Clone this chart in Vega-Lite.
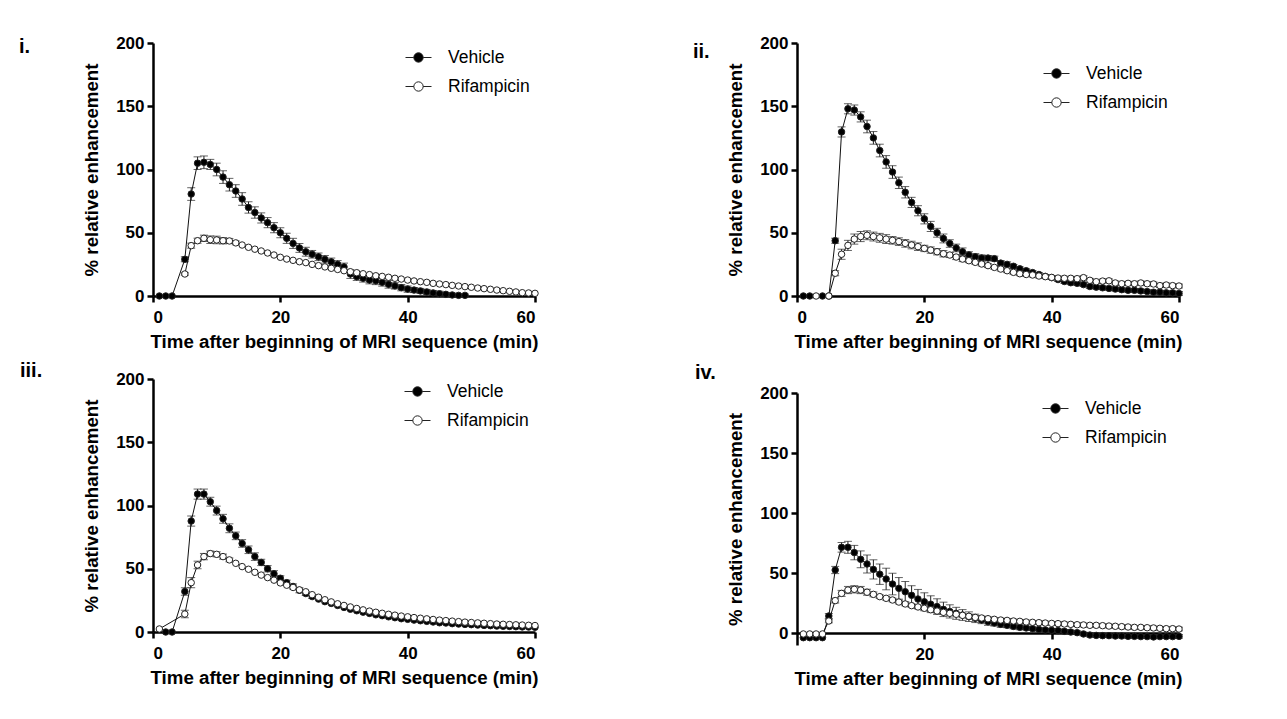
{
"$schema": "https://vega.github.io/schema/vega-lite/v6.json",
"padding": {"left": 19, "top": 34, "right": 5, "bottom": 5},
"background": "white",
"datasets": {
"d": [
{"p":"i","s":"Vehicle","t":1,"v":0,"e":0},{"p":"i","s":"Vehicle","t":2,"v":0,"e":0},{"p":"i","s":"Vehicle","t":3,"v":0,"e":0},{"p":"i","s":"Vehicle","t":5,"v":29,"e":2},{"p":"i","s":"Vehicle","t":6,"v":80.6,"e":5},{"p":"i","s":"Vehicle","t":7,"v":105,"e":5},{"p":"i","s":"Vehicle","t":8,"v":105.7,"e":5},{"p":"i","s":"Vehicle","t":9,"v":104,"e":4},{"p":"i","s":"Vehicle","t":10,"v":100,"e":5},{"p":"i","s":"Vehicle","t":11,"v":94,"e":5},{"p":"i","s":"Vehicle","t":12,"v":88,"e":5},{"p":"i","s":"Vehicle","t":13,"v":83,"e":5},{"p":"i","s":"Vehicle","t":14,"v":76.7,"e":5},{"p":"i","s":"Vehicle","t":15,"v":70,"e":4.5},{"p":"i","s":"Vehicle","t":16,"v":66,"e":4.5},{"p":"i","s":"Vehicle","t":17,"v":61.7,"e":4},{"p":"i","s":"Vehicle","t":18,"v":58,"e":4},{"p":"i","s":"Vehicle","t":19,"v":54,"e":4},{"p":"i","s":"Vehicle","t":20,"v":50,"e":4},{"p":"i","s":"Vehicle","t":21,"v":45.6,"e":4},{"p":"i","s":"Vehicle","t":22,"v":41.6,"e":4},{"p":"i","s":"Vehicle","t":23,"v":38,"e":3.5},{"p":"i","s":"Vehicle","t":24,"v":35,"e":3.5},{"p":"i","s":"Vehicle","t":25,"v":33,"e":3},{"p":"i","s":"Vehicle","t":26,"v":31,"e":3},{"p":"i","s":"Vehicle","t":27,"v":29,"e":3},{"p":"i","s":"Vehicle","t":28,"v":27,"e":3},{"p":"i","s":"Vehicle","t":29,"v":25,"e":3},{"p":"i","s":"Vehicle","t":30,"v":23,"e":3},{"p":"i","s":"Vehicle","t":31,"v":17.4,"e":3.5},{"p":"i","s":"Vehicle","t":32,"v":15.3,"e":3},{"p":"i","s":"Vehicle","t":33,"v":14,"e":3},{"p":"i","s":"Vehicle","t":34,"v":12.6,"e":3},{"p":"i","s":"Vehicle","t":35,"v":12,"e":3},{"p":"i","s":"Vehicle","t":36,"v":10.8,"e":3},{"p":"i","s":"Vehicle","t":37,"v":9.2,"e":3},{"p":"i","s":"Vehicle","t":38,"v":8,"e":2.5},{"p":"i","s":"Vehicle","t":39,"v":6.6,"e":2.5},{"p":"i","s":"Vehicle","t":40,"v":5.5,"e":2.5},{"p":"i","s":"Vehicle","t":41,"v":4.7,"e":2},{"p":"i","s":"Vehicle","t":42,"v":4,"e":2},{"p":"i","s":"Vehicle","t":43,"v":3.2,"e":2},{"p":"i","s":"Vehicle","t":44,"v":2.4,"e":2},{"p":"i","s":"Vehicle","t":45,"v":1.8,"e":2},{"p":"i","s":"Vehicle","t":46,"v":1.3,"e":1.5},{"p":"i","s":"Vehicle","t":47,"v":0.8,"e":1.5},{"p":"i","s":"Vehicle","t":48,"v":0.5,"e":1},{"p":"i","s":"Vehicle","t":49,"v":0.5,"e":1},
{"p":"i","s":"Rifampicin","t":5,"v":17.4,"e":1},{"p":"i","s":"Rifampicin","t":6,"v":39.8,"e":2},{"p":"i","s":"Rifampicin","t":7,"v":43.7,"e":2},{"p":"i","s":"Rifampicin","t":8,"v":45.6,"e":2.5},{"p":"i","s":"Rifampicin","t":9,"v":44.5,"e":3},{"p":"i","s":"Rifampicin","t":10,"v":44.3,"e":3},{"p":"i","s":"Rifampicin","t":11,"v":43.7,"e":2.5},{"p":"i","s":"Rifampicin","t":12,"v":43.5,"e":2},{"p":"i","s":"Rifampicin","t":13,"v":42,"e":1.5},{"p":"i","s":"Rifampicin","t":14,"v":40.3,"e":0},{"p":"i","s":"Rifampicin","t":15,"v":38.5,"e":0},{"p":"i","s":"Rifampicin","t":16,"v":37,"e":0},{"p":"i","s":"Rifampicin","t":17,"v":35.6,"e":0},{"p":"i","s":"Rifampicin","t":18,"v":34,"e":0},{"p":"i","s":"Rifampicin","t":19,"v":32.4,"e":0},{"p":"i","s":"Rifampicin","t":20,"v":30.6,"e":0},{"p":"i","s":"Rifampicin","t":21,"v":29.2,"e":0},{"p":"i","s":"Rifampicin","t":22,"v":28.2,"e":0},{"p":"i","s":"Rifampicin","t":23,"v":27.1,"e":0},{"p":"i","s":"Rifampicin","t":24,"v":26.4,"e":0},{"p":"i","s":"Rifampicin","t":25,"v":25,"e":0},{"p":"i","s":"Rifampicin","t":26,"v":24,"e":0},{"p":"i","s":"Rifampicin","t":27,"v":23,"e":0},{"p":"i","s":"Rifampicin","t":28,"v":21.9,"e":0},{"p":"i","s":"Rifampicin","t":29,"v":21,"e":0},{"p":"i","s":"Rifampicin","t":30,"v":20,"e":0},{"p":"i","s":"Rifampicin","t":31,"v":19.2,"e":0},{"p":"i","s":"Rifampicin","t":32,"v":18.4,"e":0},{"p":"i","s":"Rifampicin","t":33,"v":17.6,"e":0},{"p":"i","s":"Rifampicin","t":34,"v":16.9,"e":0},{"p":"i","s":"Rifampicin","t":35,"v":16,"e":0},{"p":"i","s":"Rifampicin","t":36,"v":15.5,"e":0},{"p":"i","s":"Rifampicin","t":37,"v":14.8,"e":0},{"p":"i","s":"Rifampicin","t":38,"v":14,"e":0},{"p":"i","s":"Rifampicin","t":39,"v":13.4,"e":0},{"p":"i","s":"Rifampicin","t":40,"v":12.6,"e":0},{"p":"i","s":"Rifampicin","t":41,"v":11.9,"e":0},{"p":"i","s":"Rifampicin","t":42,"v":11.3,"e":0},{"p":"i","s":"Rifampicin","t":43,"v":10.8,"e":0},{"p":"i","s":"Rifampicin","t":44,"v":10,"e":0},{"p":"i","s":"Rifampicin","t":45,"v":9.5,"e":0},{"p":"i","s":"Rifampicin","t":46,"v":9,"e":0},{"p":"i","s":"Rifampicin","t":47,"v":8.4,"e":0},{"p":"i","s":"Rifampicin","t":48,"v":7.9,"e":0},{"p":"i","s":"Rifampicin","t":49,"v":7.4,"e":0},{"p":"i","s":"Rifampicin","t":50,"v":6.9,"e":0},{"p":"i","s":"Rifampicin","t":51,"v":6.3,"e":0},{"p":"i","s":"Rifampicin","t":52,"v":5.8,"e":0},{"p":"i","s":"Rifampicin","t":53,"v":5.3,"e":0},{"p":"i","s":"Rifampicin","t":54,"v":4.7,"e":0},{"p":"i","s":"Rifampicin","t":55,"v":4.2,"e":0},{"p":"i","s":"Rifampicin","t":56,"v":3.7,"e":0},{"p":"i","s":"Rifampicin","t":57,"v":3.2,"e":0},{"p":"i","s":"Rifampicin","t":58,"v":2.6,"e":0},{"p":"i","s":"Rifampicin","t":59,"v":2.4,"e":0},{"p":"i","s":"Rifampicin","t":60,"v":2.1,"e":0},
{"p":"ii","s":"Vehicle","t":1,"v":0,"e":0},{"p":"ii","s":"Vehicle","t":2,"v":0,"e":0},{"p":"ii","s":"Vehicle","t":4,"v":0,"e":0},{"p":"ii","s":"Vehicle","t":5,"v":0,"e":0},{"p":"ii","s":"Vehicle","t":6,"v":43.7,"e":2},{"p":"ii","s":"Vehicle","t":7,"v":129.7,"e":4},{"p":"ii","s":"Vehicle","t":8,"v":148,"e":4},{"p":"ii","s":"Vehicle","t":9,"v":147,"e":4},{"p":"ii","s":"Vehicle","t":10,"v":141.6,"e":4},{"p":"ii","s":"Vehicle","t":11,"v":134,"e":5},{"p":"ii","s":"Vehicle","t":12,"v":125,"e":5},{"p":"ii","s":"Vehicle","t":13,"v":115,"e":5},{"p":"ii","s":"Vehicle","t":14,"v":106,"e":5},{"p":"ii","s":"Vehicle","t":15,"v":98,"e":5},{"p":"ii","s":"Vehicle","t":16,"v":89.5,"e":4.5},{"p":"ii","s":"Vehicle","t":17,"v":82,"e":4.5},{"p":"ii","s":"Vehicle","t":18,"v":74,"e":4},{"p":"ii","s":"Vehicle","t":19,"v":67.4,"e":4},{"p":"ii","s":"Vehicle","t":20,"v":61,"e":4},{"p":"ii","s":"Vehicle","t":21,"v":55,"e":4},{"p":"ii","s":"Vehicle","t":22,"v":50,"e":3.5},{"p":"ii","s":"Vehicle","t":23,"v":45.5,"e":3.5},{"p":"ii","s":"Vehicle","t":24,"v":41.5,"e":3},{"p":"ii","s":"Vehicle","t":25,"v":38,"e":3},{"p":"ii","s":"Vehicle","t":26,"v":35,"e":3},{"p":"ii","s":"Vehicle","t":27,"v":32.5,"e":2.5},{"p":"ii","s":"Vehicle","t":28,"v":31,"e":2.5},{"p":"ii","s":"Vehicle","t":29,"v":30,"e":2.5},{"p":"ii","s":"Vehicle","t":30,"v":30,"e":2},{"p":"ii","s":"Vehicle","t":31,"v":29.5,"e":2},{"p":"ii","s":"Vehicle","t":32,"v":26,"e":2},{"p":"ii","s":"Vehicle","t":33,"v":25,"e":2},{"p":"ii","s":"Vehicle","t":34,"v":23.5,"e":1.5},{"p":"ii","s":"Vehicle","t":35,"v":21.5,"e":1.5},{"p":"ii","s":"Vehicle","t":36,"v":20,"e":1.5},{"p":"ii","s":"Vehicle","t":37,"v":18.5,"e":1.5},{"p":"ii","s":"Vehicle","t":38,"v":17,"e":1.5},{"p":"ii","s":"Vehicle","t":39,"v":15.5,"e":1.5},{"p":"ii","s":"Vehicle","t":40,"v":14.5,"e":1.5},{"p":"ii","s":"Vehicle","t":41,"v":13,"e":1.5},{"p":"ii","s":"Vehicle","t":42,"v":11.5,"e":1.5},{"p":"ii","s":"Vehicle","t":43,"v":10.5,"e":1.5},{"p":"ii","s":"Vehicle","t":44,"v":10,"e":1.5},{"p":"ii","s":"Vehicle","t":45,"v":9,"e":1.5},{"p":"ii","s":"Vehicle","t":46,"v":7.5,"e":1.5},{"p":"ii","s":"Vehicle","t":47,"v":7,"e":1.5},{"p":"ii","s":"Vehicle","t":48,"v":6.5,"e":1.5},{"p":"ii","s":"Vehicle","t":49,"v":6,"e":1.5},{"p":"ii","s":"Vehicle","t":50,"v":5.5,"e":1.5},{"p":"ii","s":"Vehicle","t":51,"v":5,"e":1.5},{"p":"ii","s":"Vehicle","t":52,"v":4.5,"e":1.5},{"p":"ii","s":"Vehicle","t":53,"v":4.5,"e":1.5},{"p":"ii","s":"Vehicle","t":54,"v":4,"e":1.5},{"p":"ii","s":"Vehicle","t":55,"v":3.5,"e":1.5},{"p":"ii","s":"Vehicle","t":56,"v":3,"e":1.5},{"p":"ii","s":"Vehicle","t":57,"v":3,"e":1.5},{"p":"ii","s":"Vehicle","t":58,"v":2.5,"e":1.5},{"p":"ii","s":"Vehicle","t":59,"v":2.5,"e":1.5},{"p":"ii","s":"Vehicle","t":60,"v":2,"e":1.5},
{"p":"ii","s":"Rifampicin","t":3,"v":0,"e":0},{"p":"ii","s":"Rifampicin","t":5,"v":0,"e":0},{"p":"ii","s":"Rifampicin","t":6,"v":18,"e":2},{"p":"ii","s":"Rifampicin","t":7,"v":33,"e":4},{"p":"ii","s":"Rifampicin","t":8,"v":40,"e":4},{"p":"ii","s":"Rifampicin","t":9,"v":45,"e":4},{"p":"ii","s":"Rifampicin","t":10,"v":47,"e":4},{"p":"ii","s":"Rifampicin","t":11,"v":48,"e":3.5},{"p":"ii","s":"Rifampicin","t":12,"v":47,"e":3.5},{"p":"ii","s":"Rifampicin","t":13,"v":46,"e":3.5},{"p":"ii","s":"Rifampicin","t":14,"v":45,"e":3.5},{"p":"ii","s":"Rifampicin","t":15,"v":44,"e":3},{"p":"ii","s":"Rifampicin","t":16,"v":43,"e":3},{"p":"ii","s":"Rifampicin","t":17,"v":41.6,"e":3},{"p":"ii","s":"Rifampicin","t":18,"v":40.3,"e":3},{"p":"ii","s":"Rifampicin","t":19,"v":39,"e":3},{"p":"ii","s":"Rifampicin","t":20,"v":37.6,"e":2.5},{"p":"ii","s":"Rifampicin","t":21,"v":36.3,"e":2.5},{"p":"ii","s":"Rifampicin","t":22,"v":35,"e":2.5},{"p":"ii","s":"Rifampicin","t":23,"v":33.4,"e":2.5},{"p":"ii","s":"Rifampicin","t":24,"v":32.4,"e":2},{"p":"ii","s":"Rifampicin","t":25,"v":30.8,"e":2},{"p":"ii","s":"Rifampicin","t":26,"v":29.2,"e":2},{"p":"ii","s":"Rifampicin","t":27,"v":27.9,"e":1.5},{"p":"ii","s":"Rifampicin","t":28,"v":26.6,"e":1.5},{"p":"ii","s":"Rifampicin","t":29,"v":25.3,"e":1.5},{"p":"ii","s":"Rifampicin","t":30,"v":24,"e":1.5},{"p":"ii","s":"Rifampicin","t":31,"v":22.6,"e":1.5},{"p":"ii","s":"Rifampicin","t":32,"v":21.3,"e":1.5},{"p":"ii","s":"Rifampicin","t":33,"v":20,"e":1.5},{"p":"ii","s":"Rifampicin","t":34,"v":18.7,"e":1.5},{"p":"ii","s":"Rifampicin","t":35,"v":17.6,"e":1.5},{"p":"ii","s":"Rifampicin","t":36,"v":17,"e":1.5},{"p":"ii","s":"Rifampicin","t":37,"v":16.6,"e":1.5},{"p":"ii","s":"Rifampicin","t":38,"v":15.8,"e":1.5},{"p":"ii","s":"Rifampicin","t":39,"v":15.3,"e":1.5},{"p":"ii","s":"Rifampicin","t":40,"v":14.7,"e":1.5},{"p":"ii","s":"Rifampicin","t":41,"v":14.2,"e":1.5},{"p":"ii","s":"Rifampicin","t":42,"v":14,"e":1.5},{"p":"ii","s":"Rifampicin","t":43,"v":14,"e":1.5},{"p":"ii","s":"Rifampicin","t":44,"v":13.7,"e":1.5},{"p":"ii","s":"Rifampicin","t":45,"v":14.5,"e":1.5},{"p":"ii","s":"Rifampicin","t":46,"v":12.4,"e":1.5},{"p":"ii","s":"Rifampicin","t":47,"v":11.3,"e":1.5},{"p":"ii","s":"Rifampicin","t":48,"v":11.8,"e":1.5},{"p":"ii","s":"Rifampicin","t":49,"v":12,"e":1.5},{"p":"ii","s":"Rifampicin","t":50,"v":10.3,"e":1.5},{"p":"ii","s":"Rifampicin","t":51,"v":9.7,"e":1.5},{"p":"ii","s":"Rifampicin","t":52,"v":10,"e":1.5},{"p":"ii","s":"Rifampicin","t":53,"v":9.7,"e":1.5},{"p":"ii","s":"Rifampicin","t":54,"v":10.3,"e":1.5},{"p":"ii","s":"Rifampicin","t":55,"v":9.7,"e":1.5},{"p":"ii","s":"Rifampicin","t":56,"v":9.5,"e":1.5},{"p":"ii","s":"Rifampicin","t":57,"v":8.2,"e":1.5},{"p":"ii","s":"Rifampicin","t":58,"v":8.7,"e":1.5},{"p":"ii","s":"Rifampicin","t":59,"v":8.2,"e":1.5},{"p":"ii","s":"Rifampicin","t":60,"v":7.9,"e":1.5},
{"p":"iii","s":"Vehicle","t":2,"v":0,"e":0},{"p":"iii","s":"Vehicle","t":3,"v":0,"e":0},{"p":"iii","s":"Vehicle","t":5,"v":32,"e":3},{"p":"iii","s":"Vehicle","t":6,"v":87.7,"e":4},{"p":"iii","s":"Vehicle","t":7,"v":109,"e":4},{"p":"iii","s":"Vehicle","t":8,"v":109,"e":4},{"p":"iii","s":"Vehicle","t":9,"v":103,"e":3.5},{"p":"iii","s":"Vehicle","t":10,"v":96,"e":3.5},{"p":"iii","s":"Vehicle","t":11,"v":89.5,"e":3.5},{"p":"iii","s":"Vehicle","t":12,"v":82,"e":3.5},{"p":"iii","s":"Vehicle","t":13,"v":76,"e":3},{"p":"iii","s":"Vehicle","t":14,"v":70,"e":3},{"p":"iii","s":"Vehicle","t":15,"v":65,"e":3},{"p":"iii","s":"Vehicle","t":16,"v":59.6,"e":3},{"p":"iii","s":"Vehicle","t":17,"v":55,"e":2.5},{"p":"iii","s":"Vehicle","t":18,"v":50,"e":2.5},{"p":"iii","s":"Vehicle","t":19,"v":46,"e":2.5},{"p":"iii","s":"Vehicle","t":20,"v":42.5,"e":2},{"p":"iii","s":"Vehicle","t":21,"v":39,"e":2},{"p":"iii","s":"Vehicle","t":22,"v":36,"e":2},{"p":"iii","s":"Vehicle","t":23,"v":33,"e":2},{"p":"iii","s":"Vehicle","t":24,"v":30.4,"e":1.5},{"p":"iii","s":"Vehicle","t":25,"v":28,"e":1.5},{"p":"iii","s":"Vehicle","t":26,"v":26,"e":0},{"p":"iii","s":"Vehicle","t":27,"v":24,"e":0},{"p":"iii","s":"Vehicle","t":28,"v":22.6,"e":0},{"p":"iii","s":"Vehicle","t":29,"v":21,"e":0},{"p":"iii","s":"Vehicle","t":30,"v":19.4,"e":0},{"p":"iii","s":"Vehicle","t":31,"v":18,"e":0},{"p":"iii","s":"Vehicle","t":32,"v":16.8,"e":0},{"p":"iii","s":"Vehicle","t":33,"v":15.7,"e":0},{"p":"iii","s":"Vehicle","t":34,"v":14.7,"e":0},{"p":"iii","s":"Vehicle","t":35,"v":13.6,"e":0},{"p":"iii","s":"Vehicle","t":36,"v":12.9,"e":0},{"p":"iii","s":"Vehicle","t":37,"v":12,"e":0},{"p":"iii","s":"Vehicle","t":38,"v":11.3,"e":0},{"p":"iii","s":"Vehicle","t":39,"v":10.5,"e":0},{"p":"iii","s":"Vehicle","t":40,"v":10,"e":0},{"p":"iii","s":"Vehicle","t":41,"v":9.4,"e":0},{"p":"iii","s":"Vehicle","t":42,"v":8.9,"e":0},{"p":"iii","s":"Vehicle","t":43,"v":8.4,"e":0},{"p":"iii","s":"Vehicle","t":44,"v":7.9,"e":0},{"p":"iii","s":"Vehicle","t":45,"v":7.3,"e":0},{"p":"iii","s":"Vehicle","t":46,"v":7.1,"e":0},{"p":"iii","s":"Vehicle","t":47,"v":6.6,"e":0},{"p":"iii","s":"Vehicle","t":48,"v":6.3,"e":0},{"p":"iii","s":"Vehicle","t":49,"v":6,"e":0},{"p":"iii","s":"Vehicle","t":50,"v":5.8,"e":0},{"p":"iii","s":"Vehicle","t":51,"v":5.5,"e":0},{"p":"iii","s":"Vehicle","t":52,"v":5.2,"e":0},{"p":"iii","s":"Vehicle","t":53,"v":5,"e":0},{"p":"iii","s":"Vehicle","t":54,"v":4.7,"e":0},{"p":"iii","s":"Vehicle","t":55,"v":4.5,"e":0},{"p":"iii","s":"Vehicle","t":56,"v":4.4,"e":0},{"p":"iii","s":"Vehicle","t":57,"v":4.2,"e":0},{"p":"iii","s":"Vehicle","t":58,"v":4,"e":0},{"p":"iii","s":"Vehicle","t":59,"v":3.9,"e":0},{"p":"iii","s":"Vehicle","t":60,"v":3.7,"e":0},
{"p":"iii","s":"Rifampicin","t":1,"v":2.4,"e":0},{"p":"iii","s":"Rifampicin","t":5,"v":14.2,"e":3},{"p":"iii","s":"Rifampicin","t":6,"v":39,"e":4},{"p":"iii","s":"Rifampicin","t":7,"v":53,"e":3},{"p":"iii","s":"Rifampicin","t":8,"v":59.6,"e":2.5},{"p":"iii","s":"Rifampicin","t":9,"v":62,"e":2},{"p":"iii","s":"Rifampicin","t":10,"v":61.4,"e":2},{"p":"iii","s":"Rifampicin","t":11,"v":59.6,"e":2},{"p":"iii","s":"Rifampicin","t":12,"v":57,"e":1.5},{"p":"iii","s":"Rifampicin","t":13,"v":54.3,"e":0},{"p":"iii","s":"Rifampicin","t":14,"v":51.7,"e":0},{"p":"iii","s":"Rifampicin","t":15,"v":49.6,"e":0},{"p":"iii","s":"Rifampicin","t":16,"v":47.2,"e":0},{"p":"iii","s":"Rifampicin","t":17,"v":45,"e":0},{"p":"iii","s":"Rifampicin","t":18,"v":43,"e":0},{"p":"iii","s":"Rifampicin","t":19,"v":41,"e":0},{"p":"iii","s":"Rifampicin","t":20,"v":38.8,"e":0},{"p":"iii","s":"Rifampicin","t":21,"v":37,"e":0},{"p":"iii","s":"Rifampicin","t":22,"v":35.2,"e":0},{"p":"iii","s":"Rifampicin","t":23,"v":33.3,"e":0},{"p":"iii","s":"Rifampicin","t":24,"v":31.8,"e":0},{"p":"iii","s":"Rifampicin","t":25,"v":29.5,"e":0},{"p":"iii","s":"Rifampicin","t":26,"v":27.5,"e":0},{"p":"iii","s":"Rifampicin","t":27,"v":25.5,"e":0},{"p":"iii","s":"Rifampicin","t":28,"v":23.8,"e":0},{"p":"iii","s":"Rifampicin","t":29,"v":22.3,"e":0},{"p":"iii","s":"Rifampicin","t":30,"v":21,"e":0},{"p":"iii","s":"Rifampicin","t":31,"v":19.8,"e":0},{"p":"iii","s":"Rifampicin","t":32,"v":18.6,"e":0},{"p":"iii","s":"Rifampicin","t":33,"v":17.5,"e":0},{"p":"iii","s":"Rifampicin","t":34,"v":16.5,"e":0},{"p":"iii","s":"Rifampicin","t":35,"v":15.6,"e":0},{"p":"iii","s":"Rifampicin","t":36,"v":14.8,"e":0},{"p":"iii","s":"Rifampicin","t":37,"v":14,"e":0},{"p":"iii","s":"Rifampicin","t":38,"v":13.3,"e":0},{"p":"iii","s":"Rifampicin","t":39,"v":12.6,"e":0},{"p":"iii","s":"Rifampicin","t":40,"v":12,"e":0},{"p":"iii","s":"Rifampicin","t":41,"v":11.4,"e":0},{"p":"iii","s":"Rifampicin","t":42,"v":10.9,"e":0},{"p":"iii","s":"Rifampicin","t":43,"v":10.4,"e":0},{"p":"iii","s":"Rifampicin","t":44,"v":9.9,"e":0},{"p":"iii","s":"Rifampicin","t":45,"v":9.4,"e":0},{"p":"iii","s":"Rifampicin","t":46,"v":9,"e":0},{"p":"iii","s":"Rifampicin","t":47,"v":8.6,"e":0},{"p":"iii","s":"Rifampicin","t":48,"v":8.2,"e":0},{"p":"iii","s":"Rifampicin","t":49,"v":7.8,"e":0},{"p":"iii","s":"Rifampicin","t":50,"v":7.5,"e":0},{"p":"iii","s":"Rifampicin","t":51,"v":7.2,"e":0},{"p":"iii","s":"Rifampicin","t":52,"v":6.9,"e":0},{"p":"iii","s":"Rifampicin","t":53,"v":6.6,"e":0},{"p":"iii","s":"Rifampicin","t":54,"v":6.3,"e":0},{"p":"iii","s":"Rifampicin","t":55,"v":6.1,"e":0},{"p":"iii","s":"Rifampicin","t":56,"v":5.9,"e":0},{"p":"iii","s":"Rifampicin","t":57,"v":5.7,"e":0},{"p":"iii","s":"Rifampicin","t":58,"v":5.5,"e":0},{"p":"iii","s":"Rifampicin","t":59,"v":5.3,"e":0},{"p":"iii","s":"Rifampicin","t":60,"v":5.1,"e":0},
{"p":"iv","s":"Vehicle","t":1,"v":-3.9,"e":0},{"p":"iv","s":"Vehicle","t":2,"v":-3.9,"e":0},{"p":"iv","s":"Vehicle","t":3,"v":-3.9,"e":0},{"p":"iv","s":"Vehicle","t":4,"v":-3.9,"e":0},{"p":"iv","s":"Vehicle","t":5,"v":14.2,"e":2},{"p":"iv","s":"Vehicle","t":6,"v":52.5,"e":3},{"p":"iv","s":"Vehicle","t":7,"v":71.4,"e":4},{"p":"iv","s":"Vehicle","t":8,"v":71.4,"e":5},{"p":"iv","s":"Vehicle","t":9,"v":67,"e":6},{"p":"iv","s":"Vehicle","t":10,"v":61.4,"e":7},{"p":"iv","s":"Vehicle","t":11,"v":57.5,"e":7.5},{"p":"iv","s":"Vehicle","t":12,"v":53,"e":8},{"p":"iv","s":"Vehicle","t":13,"v":49,"e":8.5},{"p":"iv","s":"Vehicle","t":14,"v":45,"e":9},{"p":"iv","s":"Vehicle","t":15,"v":40.8,"e":9},{"p":"iv","s":"Vehicle","t":16,"v":37.2,"e":9},{"p":"iv","s":"Vehicle","t":17,"v":34.4,"e":8.5},{"p":"iv","s":"Vehicle","t":18,"v":31.4,"e":8},{"p":"iv","s":"Vehicle","t":19,"v":28.3,"e":8},{"p":"iv","s":"Vehicle","t":20,"v":26,"e":7.5},{"p":"iv","s":"Vehicle","t":21,"v":24,"e":7},{"p":"iv","s":"Vehicle","t":22,"v":22,"e":6.5},{"p":"iv","s":"Vehicle","t":23,"v":19.7,"e":6},{"p":"iv","s":"Vehicle","t":24,"v":18,"e":5.5},{"p":"iv","s":"Vehicle","t":25,"v":16.4,"e":5},{"p":"iv","s":"Vehicle","t":26,"v":15,"e":4.5},{"p":"iv","s":"Vehicle","t":27,"v":13.6,"e":4},{"p":"iv","s":"Vehicle","t":28,"v":12.2,"e":3.5},{"p":"iv","s":"Vehicle","t":29,"v":10.8,"e":3},{"p":"iv","s":"Vehicle","t":30,"v":9.4,"e":3},{"p":"iv","s":"Vehicle","t":31,"v":8.3,"e":2.5},{"p":"iv","s":"Vehicle","t":32,"v":7.2,"e":2.5},{"p":"iv","s":"Vehicle","t":33,"v":6.4,"e":2},{"p":"iv","s":"Vehicle","t":34,"v":5.5,"e":2},{"p":"iv","s":"Vehicle","t":35,"v":4.7,"e":2},{"p":"iv","s":"Vehicle","t":36,"v":4.2,"e":1.5},{"p":"iv","s":"Vehicle","t":37,"v":3.6,"e":1.5},{"p":"iv","s":"Vehicle","t":38,"v":3,"e":1.5},{"p":"iv","s":"Vehicle","t":39,"v":2.5,"e":1.5},{"p":"iv","s":"Vehicle","t":40,"v":2.2,"e":1.5},{"p":"iv","s":"Vehicle","t":41,"v":2,"e":1.5},{"p":"iv","s":"Vehicle","t":42,"v":1.4,"e":1.5},{"p":"iv","s":"Vehicle","t":43,"v":0.8,"e":1.5},{"p":"iv","s":"Vehicle","t":44,"v":0.3,"e":1.5},{"p":"iv","s":"Vehicle","t":45,"v":-0.8,"e":1.5},{"p":"iv","s":"Vehicle","t":46,"v":-1.7,"e":1.5},{"p":"iv","s":"Vehicle","t":47,"v":-2,"e":1.5},{"p":"iv","s":"Vehicle","t":48,"v":-2.2,"e":1.5},{"p":"iv","s":"Vehicle","t":49,"v":-2.2,"e":1.5},{"p":"iv","s":"Vehicle","t":50,"v":-2.5,"e":1.5},{"p":"iv","s":"Vehicle","t":51,"v":-2.5,"e":1.5},{"p":"iv","s":"Vehicle","t":52,"v":-2.8,"e":1.5},{"p":"iv","s":"Vehicle","t":53,"v":-2.8,"e":1.5},{"p":"iv","s":"Vehicle","t":54,"v":-3,"e":1.5},{"p":"iv","s":"Vehicle","t":55,"v":-3,"e":1.5},{"p":"iv","s":"Vehicle","t":56,"v":-3.3,"e":1.5},{"p":"iv","s":"Vehicle","t":57,"v":-3,"e":1.5},{"p":"iv","s":"Vehicle","t":58,"v":-3,"e":1.5},{"p":"iv","s":"Vehicle","t":59,"v":-3,"e":1.5},{"p":"iv","s":"Vehicle","t":60,"v":-2.8,"e":1.5},
{"p":"iv","s":"Rifampicin","t":1,"v":-0.8,"e":0},{"p":"iv","s":"Rifampicin","t":2,"v":-0.8,"e":0},{"p":"iv","s":"Rifampicin","t":3,"v":-0.8,"e":0},{"p":"iv","s":"Rifampicin","t":4,"v":-0.8,"e":0},{"p":"iv","s":"Rifampicin","t":5,"v":10,"e":1.5},{"p":"iv","s":"Rifampicin","t":6,"v":27,"e":2},{"p":"iv","s":"Rifampicin","t":7,"v":33,"e":2.5},{"p":"iv","s":"Rifampicin","t":8,"v":35.8,"e":3},{"p":"iv","s":"Rifampicin","t":9,"v":36.4,"e":3},{"p":"iv","s":"Rifampicin","t":10,"v":35.8,"e":3},{"p":"iv","s":"Rifampicin","t":11,"v":34,"e":2.5},{"p":"iv","s":"Rifampicin","t":12,"v":32.2,"e":2},{"p":"iv","s":"Rifampicin","t":13,"v":30.3,"e":1.5},{"p":"iv","s":"Rifampicin","t":14,"v":28.9,"e":1.5},{"p":"iv","s":"Rifampicin","t":15,"v":27.5,"e":1.5},{"p":"iv","s":"Rifampicin","t":16,"v":25.8,"e":1.5},{"p":"iv","s":"Rifampicin","t":17,"v":24.2,"e":1.5},{"p":"iv","s":"Rifampicin","t":18,"v":22.8,"e":1.5},{"p":"iv","s":"Rifampicin","t":19,"v":21.7,"e":1.5},{"p":"iv","s":"Rifampicin","t":20,"v":20.6,"e":1.5},{"p":"iv","s":"Rifampicin","t":21,"v":19.4,"e":1.5},{"p":"iv","s":"Rifampicin","t":22,"v":18.3,"e":1.5},{"p":"iv","s":"Rifampicin","t":23,"v":17.2,"e":1.5},{"p":"iv","s":"Rifampicin","t":24,"v":16.4,"e":1.5},{"p":"iv","s":"Rifampicin","t":25,"v":15.6,"e":1.5},{"p":"iv","s":"Rifampicin","t":26,"v":14.7,"e":1.5},{"p":"iv","s":"Rifampicin","t":27,"v":13.9,"e":1.5},{"p":"iv","s":"Rifampicin","t":28,"v":13,"e":1.5},{"p":"iv","s":"Rifampicin","t":29,"v":12.5,"e":1.5},{"p":"iv","s":"Rifampicin","t":30,"v":11.9,"e":1.5},{"p":"iv","s":"Rifampicin","t":31,"v":11.4,"e":1.5},{"p":"iv","s":"Rifampicin","t":32,"v":10.8,"e":1.5},{"p":"iv","s":"Rifampicin","t":33,"v":10.5,"e":1.5},{"p":"iv","s":"Rifampicin","t":34,"v":10,"e":1.5},{"p":"iv","s":"Rifampicin","t":35,"v":9.7,"e":1.5},{"p":"iv","s":"Rifampicin","t":36,"v":9.2,"e":1.5},{"p":"iv","s":"Rifampicin","t":37,"v":8.9,"e":1.5},{"p":"iv","s":"Rifampicin","t":38,"v":8.6,"e":1.5},{"p":"iv","s":"Rifampicin","t":39,"v":8.3,"e":1.5},{"p":"iv","s":"Rifampicin","t":40,"v":8,"e":1.5},{"p":"iv","s":"Rifampicin","t":41,"v":7.8,"e":1.5},{"p":"iv","s":"Rifampicin","t":42,"v":7.5,"e":1.5},{"p":"iv","s":"Rifampicin","t":43,"v":7.2,"e":1.5},{"p":"iv","s":"Rifampicin","t":44,"v":6.9,"e":1.5},{"p":"iv","s":"Rifampicin","t":45,"v":6.7,"e":1.5},{"p":"iv","s":"Rifampicin","t":46,"v":6.4,"e":1.5},{"p":"iv","s":"Rifampicin","t":47,"v":6.4,"e":1.5},{"p":"iv","s":"Rifampicin","t":48,"v":6.1,"e":1.5},{"p":"iv","s":"Rifampicin","t":49,"v":5.8,"e":1.5},{"p":"iv","s":"Rifampicin","t":50,"v":5.6,"e":1.5},{"p":"iv","s":"Rifampicin","t":51,"v":5.3,"e":1.5},{"p":"iv","s":"Rifampicin","t":52,"v":5,"e":1.5},{"p":"iv","s":"Rifampicin","t":53,"v":4.7,"e":1.5},{"p":"iv","s":"Rifampicin","t":54,"v":4.7,"e":1.5},{"p":"iv","s":"Rifampicin","t":55,"v":4.4,"e":1.5},{"p":"iv","s":"Rifampicin","t":56,"v":4.2,"e":1.5},{"p":"iv","s":"Rifampicin","t":57,"v":3.9,"e":1.5},{"p":"iv","s":"Rifampicin","t":58,"v":3.6,"e":1.5},{"p":"iv","s":"Rifampicin","t":59,"v":3.6,"e":1.5},{"p":"iv","s":"Rifampicin","t":60,"v":3.3,"e":1.5}
]
},
"data": {"name": "d"},
"spacing": 152,
"resolve": {"scale": {"x": "independent", "y": "independent", "fill": "independent"}, "legend": {"fill": "independent"}},
"hconcat": [
 {
  "spacing": 10,
  "resolve": {"scale": {"x": "independent", "y": "independent", "fill": "independent"}, "legend": {"fill": "independent"}},
  "vconcat": [
   {
    "width": 382, "height": 253,
    "title": {"text": "i.", "dx": -134, "dy": 27},
    "transform": [{"filter": "datum.p === 'i'"}],
    "encoding": {
      "x": {"field": "t", "type": "quantitative", "scale": {"domain": [0, 60], "nice": false, "padding": 0}, "axis": {"values": [0, 20, 40, 60], "title": "Time after beginning of MRI sequence (min)"}},
      "y": {"field": "v", "type": "quantitative", "scale": {"domain": [0, 200], "nice": false, "padding": 0}, "axis": {"values": [0, 50, 100, 150, 200], "title": "% relative enhancement"}}
    },
    "layer": [
      {"transform": [{"filter": "datum.e > 0"}], "mark": {"type": "errorbar", "ticks": {"size": 8, "color": "#222", "thickness": 1}, "rule": {"color": "#222", "strokeWidth": 1}}, "encoding": {"yError": {"field": "e"}}},
      {"mark": {"type": "line", "color": "#111", "strokeWidth": 1}, "encoding": {"detail": {"field": "s"}}},
      {"mark": {"type": "point", "shape": "circle", "size": 42, "filled": true, "stroke": "#222", "strokeWidth": 1, "opacity": 1},
       "encoding": {"fill": {"field": "s", "type": "nominal", "scale": {"domain": ["Vehicle", "Rifampicin"], "range": ["black", "white"]}, "legend": {"legendX": 252, "legendY": 1}}}}
    ]
   },
   {
    "width": 382, "height": 253,
    "title": {"text": "iii.", "dx": -133, "dy": 15},
    "transform": [{"filter": "datum.p === 'iii'"}],
    "encoding": {
      "x": {"field": "t", "type": "quantitative", "scale": {"domain": [0, 60], "nice": false, "padding": 0}, "axis": {"values": [0, 20, 40, 60], "title": "Time after beginning of MRI sequence (min)"}},
      "y": {"field": "v", "type": "quantitative", "scale": {"domain": [0, 200], "nice": false, "padding": 0}, "axis": {"values": [0, 50, 100, 150, 200], "title": "% relative enhancement"}}
    },
    "layer": [
      {"transform": [{"filter": "datum.e > 0"}], "mark": {"type": "errorbar", "ticks": {"size": 8, "color": "#222", "thickness": 1}, "rule": {"color": "#222", "strokeWidth": 1}}, "encoding": {"yError": {"field": "e"}}},
      {"mark": {"type": "line", "color": "#111", "strokeWidth": 1}, "encoding": {"detail": {"field": "s"}}},
      {"mark": {"type": "point", "shape": "circle", "size": 42, "filled": true, "stroke": "#222", "strokeWidth": 1, "opacity": 1},
       "encoding": {"fill": {"field": "s", "type": "nominal", "scale": {"domain": ["Vehicle", "Rifampicin"], "range": ["black", "white"]}, "legend": {"legendX": 251, "legendY": -1}}}}
    ]
   }
  ]
 },
 {
  "spacing": 12,
  "resolve": {"scale": {"x": "independent", "y": "independent", "fill": "independent"}, "legend": {"fill": "independent"}},
  "vconcat": [
   {
    "width": 382, "height": 253,
    "title": {"text": "ii.", "dx": -104, "dy": 32},
    "transform": [{"filter": "datum.p === 'ii'"}],
    "encoding": {
      "x": {"field": "t", "type": "quantitative", "scale": {"domain": [0, 60], "nice": false, "padding": 0}, "axis": {"values": [0, 20, 40, 60], "title": "Time after beginning of MRI sequence (min)"}},
      "y": {"field": "v", "type": "quantitative", "scale": {"domain": [0, 200], "nice": false, "padding": 0}, "axis": {"values": [0, 50, 100, 150, 200], "title": "% relative enhancement"}}
    },
    "layer": [
      {"transform": [{"filter": "datum.e > 0"}], "mark": {"type": "errorbar", "ticks": {"size": 8, "color": "#222", "thickness": 1}, "rule": {"color": "#222", "strokeWidth": 1}}, "encoding": {"yError": {"field": "e"}}},
      {"mark": {"type": "line", "color": "#111", "strokeWidth": 1}, "encoding": {"detail": {"field": "s"}}},
      {"mark": {"type": "point", "shape": "circle", "size": 42, "filled": true, "stroke": "#222", "strokeWidth": 1, "opacity": 1},
       "encoding": {"fill": {"field": "s", "type": "nominal", "scale": {"domain": ["Vehicle", "Rifampicin"], "range": ["black", "white"]}, "legend": {"legendX": 246, "legendY": 17}}}}
    ]
   },
   {
    "width": 382, "height": 252,
    "title": {"text": "iv.", "dx": -102, "dy": 3},
    "transform": [{"filter": "datum.p === 'iv'"}],
    "encoding": {
      "x": {"field": "t", "type": "quantitative", "scale": {"domain": [0, 60], "nice": false, "padding": 0}, "axis": {"values": [20, 40, 60], "offset": -12, "title": "Time after beginning of MRI sequence (min)"}},
      "y": {"field": "v", "type": "quantitative", "scale": {"domain": [-10, 200], "nice": false, "padding": 0}, "axis": {"values": [0, 50, 100, 150, 200], "title": "% relative enhancement"}}
    },
    "layer": [
      {"transform": [{"filter": "datum.e > 0"}], "mark": {"type": "errorbar", "ticks": {"size": 8, "color": "#222", "thickness": 1}, "rule": {"color": "#222", "strokeWidth": 1}}, "encoding": {"yError": {"field": "e"}}},
      {"mark": {"type": "line", "color": "#111", "strokeWidth": 1}, "encoding": {"detail": {"field": "s"}}},
      {"mark": {"type": "point", "shape": "circle", "size": 42, "filled": true, "stroke": "#222", "strokeWidth": 1, "opacity": 1},
       "encoding": {"fill": {"field": "s", "type": "nominal", "scale": {"domain": ["Vehicle", "Rifampicin"], "range": ["black", "white"]}, "legend": {"legendX": 245, "legendY": 2}}}}
    ]
   }
  ]
 }
],
"config": {
  "view": {"stroke": null},
  "font": "Liberation Sans",
  "axis": {"domainColor": "black", "domainWidth": 2.5, "tickColor": "black", "tickWidth": 2.5, "tickSize": 6, "labelFont": "Liberation Sans", "labelFontSize": 17, "labelFontWeight": "bold", "labelColor": "black", "labelPadding": 3, "titleFont": "Liberation Sans", "titleFontSize": 18.7, "titleFontWeight": "bold", "titleColor": "black", "grid": false, "labelAngle": 0},
  "axisX": {"titlePadding": 7, "labelPadding": 7},
  "axisY": {"titlePadding": 14},
  "legend": {"orient": "none", "title": null, "padding": 0, "symbolType": "M-1,0H-0.36M0.36,0H1M-0.36,0A0.36,0.36 0 1,1 0.36,0A0.36,0.36 0 1,1 -0.36,0Z", "symbolSize": 676, "symbolStrokeColor": "#222", "symbolStrokeWidth": 1, "labelFont": "Liberation Sans", "labelFontSize": 17.5, "labelColor": "black", "labelOffset": 16, "rowPadding": 7},
  "title": {"font": "Liberation Sans", "fontSize": 20, "fontWeight": "bold", "color": "black", "anchor": "start", "frame": "group", "baseline": "alphabetic", "offset": 0}
}
}
